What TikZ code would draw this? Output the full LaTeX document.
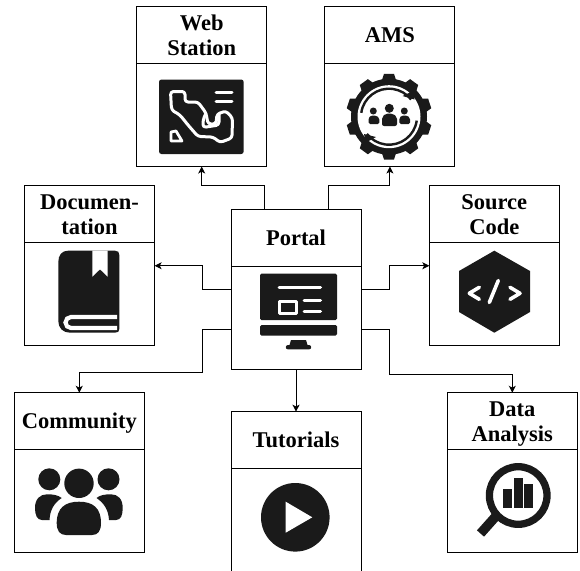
\documentclass[tikz,border=0pt]{standalone}
\usepackage{fontspec}
\setmainfont{Liberation Serif}
\usetikzlibrary{arrows.meta}
\definecolor{icon}{HTML}{1A1A1A}
\tikzset{
  panelhead/.style={draw=black,line width=1pt,rectangle,outer sep=0pt,inner sep=0pt,
    minimum width=130pt,minimum height=56.5pt,align=center,anchor=north,
    font=\bfseries\fontsize{22.5}{25}\selectfont},
  panelbody/.style={draw=black,line width=1pt,rectangle,outer sep=0pt,inner sep=0pt,
    minimum width=130pt,minimum height=103.5pt,anchor=north},
  link/.style={draw=black,line width=1pt,-{Stealth[length=7pt,width=7pt,inset=1.8pt]}},
  iconfill/.style={fill=icon,draw=none},
  cutline/.style={draw=white,line width=3pt,line cap=round,line join=round},
  blackline/.style={draw=icon,line width=2.4pt}
}
\newcommand{\panelbox}[4]{%
  \node[panelhead] (#1head) at (#2,#3) {\rule{0pt}{21pt}#4\rule[-5.5pt]{0pt}{0pt}};
  \node[panelbody] (#1body) at (#1head.south) {};
}
\begin{document}
\begin{tikzpicture}[x=1pt,y=-1pt]
\clip (0,0) rectangle (580,570);
\fill[white] (0,0) rectangle (580,570);

\panelbox{web}{201.7}{6.5}{Web\\Station}
\panelbox{ams}{389.9}{6.5}{AMS}
\panelbox{doc}{89.6}{185.5}{Documen-\\tation}
\panelbox{portal}{296}{209.5}{Portal}
\panelbox{source}{494.3}{185.5}{Source\\Code}
\panelbox{community}{79.3}{392.8}{Community}
\panelbox{tutorials}{296}{411.7}{Tutorials}
\panelbox{data}{512.3}{392.8}{Data\\Analysis}

% connectors
\draw[link] ([xshift=-32pt]portalhead.north) |- ++(-30,-24) -| (webbody.south);
\draw[link] ([xshift=32pt]portalhead.north) |- ++(30,-24) -| (amsbody.south);
\draw[link] ([yshift=28.3pt]portalbody.west) -- ++(-29,0) |- ([yshift=28pt]docbody.east);
\draw[link] ([yshift=28.3pt]portalbody.east) -- ++(28,0) |- ([yshift=28pt]sourcebody.west);
\draw[link] ([yshift=-11.5pt]portalbody.west) -- ++(-29,0) |- ++(-60,43) -| (communityhead.north);
\draw[link] (portalbody.south) -- (tutorialshead.north);
\draw[link] ([yshift=-11.5pt]portalbody.east) -- ++(28,0) |- ++(60,45) -| (datahead.north);

% Web Station icon
\fill[iconfill,rounded corners=2.5pt] (159,79.5) rectangle (243.7,154);
\draw[cutline,rounded corners=3pt] (170.5,91.5) -- (185,91.5) -- (185,102) -- (198,102) -- (206,113) -- (208,124)
  -- (216,124) -- (217,114) -- (226,111) -- (232.5,118) -- (232,138) -- (220,142.5) -- (213,137) -- (198,136.5)
  -- (188,125) -- (180,115) -- (171.5,110) -- cycle;
\draw[cutline,rounded corners=3pt] (219,114) -- (219,125) -- (203,127.5) -- (203,120) -- (206,113);
\draw[cutline] (216,92.7) -- (232,92.7);
\draw[cutline] (216,101) -- (232,101);
\draw[cutline,line width=2.8pt] (171,132) -- (176,131) -- (182,141) -- (171,141) -- cycle;

% AMS icon
\begin{scope}
  \fill[iconfill] (389,116.7) circle (38pt);
  \foreach \a in {0,36,...,324}{
    \fill[iconfill,rotate around={\a:(389,116.7)}] (382,80) -- (384,73.9) -- (394,73.9) -- (396,80) -- (396,86) -- (382,86) -- cycle;
  }
  \fill[white] (389,116.7) circle (31.5pt);
  \draw[blackline] ([shift={(389,116.7)}]172:28pt) arc[start angle=172,end angle=38,radius=28pt];
  \fill[iconfill] (414.5,99.5) -- (413,91) -- (402.5,96) -- cycle;
  \draw[blackline] ([shift={(389,116.7)}]-8:28pt) arc[start angle=-8,end angle=-142,radius=28pt];
  \fill[iconfill] (364,134) -- (366,142.5) -- (376,137) -- cycle;
  \fill[iconfill] (389.3,108.3) circle (4.5pt);
  \fill[iconfill,rounded corners=2pt] (382,126) -- (382,117) -- (386,113.5) -- (392.5,113.5) -- (397,117) -- (397,126) -- cycle;
  \fill[iconfill] (373.3,111) circle (3.5pt);
  \fill[iconfill,rounded corners=1.5pt] (368.5,124) -- (368.5,118) -- (371,115.5) -- (376,115.5) -- (379.3,118) -- (379.3,124) -- cycle;
  \fill[iconfill] (404.3,111) circle (3.5pt);
  \fill[iconfill,rounded corners=1.5pt] (399.3,124) -- (399.3,118) -- (402,115.5) -- (407,115.5) -- (410,118) -- (410,124) -- cycle;
\end{scope}

% Documentation icon
\fill[iconfill] (58.3,262) .. controls (58.3,255) and (62,250.7) .. (68,250.7) -- (115,250.7)
  .. controls (118,250.7) and (119.3,252) .. (119.3,255) -- (119.3,329) .. controls (119.3,331.5) and (118,332.7) .. (115,332.7)
  -- (70,332.7) .. controls (63,332.7) and (58.3,328) .. (58.3,321) -- cycle;
\fill[white] (92.3,250.7) -- (107.7,250.7) -- (107.7,276.7) -- (100,269.3) -- (92.3,276.7) -- cycle;
\draw[white,line width=4.2pt,line cap=butt] (117,317) -- (71,317) arc[start angle=90,end angle=270,radius=5.5pt] -- (117,328);

% Portal icon
\fill[iconfill,rounded corners=1.5pt] (260,320) -- (260,273.7) -- (337,273.7) -- (337,320) -- cycle;
\fill[iconfill,rounded corners=1.5pt] (260,325) -- (337,325) -- (337,335.7) -- (260,335.7) -- cycle;
\fill[iconfill] (291,340) -- (306,340) -- (307.5,345) -- (309,345) arc[start angle=90,end angle=-90,radius=2.2pt] -- (288,349.4) arc[start angle=270,end angle=90,radius=2.2pt] -- (289.5,345) -- cycle;
\draw[cutline] (279,287.4) -- (320.5,287.4);
\draw[cutline] (304,300.7) -- (320.5,300.7);
\draw[cutline] (304,311.7) -- (320.5,311.7);
\draw[cutline] (279,301) rectangle (296.5,313);

% Source Code icon
\fill[iconfill] (494.3,250.7) -- (530,271) -- (530,312) -- (494.3,332.7) -- (459,312) -- (459,271) -- cycle;
\draw[cutline,line width=3.6pt] (479.3,287.3) -- (469.3,293.3) -- (479.3,299.3);
\draw[cutline,line width=3.6pt] (510,287.3) -- (520,293.3) -- (510,299.3);
\draw[cutline,line width=3.6pt] (498.3,280.5) -- (489.3,302.5);

% Community icon
\fill[iconfill] (79,483.3) circle (14.7pt);
\fill[iconfill] (49.3,479.3) circle (11pt);
\fill[iconfill] (108.5,479.3) circle (11pt);
\fill[iconfill] (56.7,523) .. controls (56.7,508) and (65,501.7) .. (79,501.7) .. controls (93,501.7) and (101,508) .. (101,523)
  .. controls (101,531) and (98,535) .. (92,535) -- (66,535) .. controls (60,535) and (56.7,531) .. (56.7,523) -- cycle;
\fill[iconfill] (35,508) .. controls (35,499) and (40,494.3) .. (47,494.3) .. controls (53,494.3) and (58,495) .. (61.7,498)
  .. controls (54,503) and (50,510) .. (49.5,520) -- (42,520) .. controls (37,520) and (35,515) .. (35,508) -- cycle;
\fill[iconfill] (122.7,508) .. controls (122.7,499) and (118,494.3) .. (111,494.3) .. controls (105,494.3) and (100,495) .. (96.5,498)
  .. controls (104,503) and (108.5,510) .. (109,520) -- (116,520) .. controls (121,520) and (122.7,515) .. (122.7,508) -- cycle;

% Tutorials icon
\fill[iconfill] (295.3,517.3) circle (34.3pt);
\fill[white] (285.7,501.7) -- (312.3,517.3) -- (285.7,532.7) -- cycle;

% Data Analysis icon
\draw[icon,line width=7.3pt] (518.2,495.5) circle (28.8pt);
\draw[icon,line width=9.5pt] (497,515) -- (480.5,533.5);
\fill[iconfill] (503.3,489) rectangle (512.3,508.3);
\fill[iconfill] (514,478.3) rectangle (522.7,508.3);
\fill[iconfill] (524.3,484) rectangle (533.3,508.3);
\end{tikzpicture}
\end{document}
